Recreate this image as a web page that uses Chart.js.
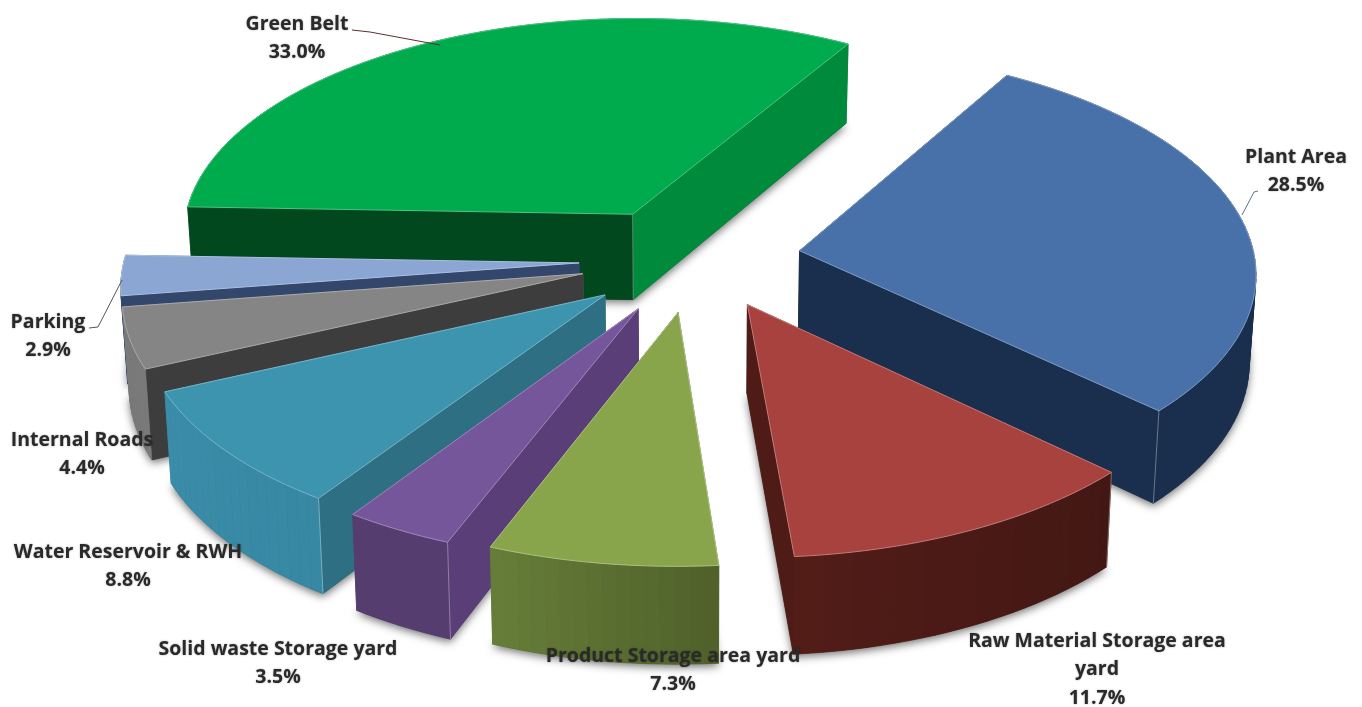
<!DOCTYPE html>
<html><head><meta charset="utf-8">
<style>html,body{margin:0;padding:0;background:#fff}canvas{display:block}</style>
<script src="https://cdn.jsdelivr.net/npm/chart.js@4"></script>
</head><body><canvas id="c" width="1362" height="707"></canvas>
<script>
const categories=["Green Belt","Plant Area","Raw Material Storage area yard","Product Storage area yard","Solid waste Storage yard","Water Reservoir & RWH","Internal Roads","Parking"];
const shares=[33.0,28.5,11.7,7.3,3.5,8.8,4.4,2.9];
const labelLines=[["Green Belt"],["Plant Area"],["Raw Material Storage area","yard"],["Product Storage area yard"],["Solid waste Storage yard"],["Water Reservoir & RWH"],["Internal Roads"],["Parking"]];
const topColors=["#00ab4e","#4771a8","#a8423f","#89a54c","#75569b","#3d94ae","#858585","#8ba6d3"];
const startWall=["#01481f","#1a2f4e","#4f1b16","#566a30","#593e78","#2e6f84","#3d3d3d","#33466c"];
const endWall=["#008a3b","#1a2f4e","#4f1b16","#566a30","#553d70","#35839e","#6f6f6f","#33466c"];
const outerA=["#006b2f","#1a2f4e","#431814","#4f6029","#553d70","#2f7f99","#6f6f6f","#33466c"];
const outerB=["#006b2f","#1a2f4e","#551d18","#677e39","#553d70","#3a8ca8","#7a7a7a","#33466c"];
const explode=[0.235,0.235,0.235,0.235,0.235,0.235,0.235,0.235];
const sliceShift=[[-5,-2],[6,-3],[12,-4],[6,-1],[1,1],[0,0],[-2,-2],[-2,-1]];
const labelCenters=[[297,24],[1296,157],[1097,641],[673,656],[278,649],[128,552],[82,440],[48,322]];
const leaders=[[[352,30],[370,32],[440,45]],[[1258,191],[1254,192],[1242,215]],[[89,328],[98,327],[122,280]]];
const leaderColors=["#5a3030","#5c7390","#555555"];
const cornerEdge=["tip","end","start",null,"start","start",null,null];

const view={cx:688,cy:261,A:455,B:221,H:87,p:0.09,shrink:0.012};
function P(u,v,z,s){const w=1/(1-view.p*v);const d=1-view.shrink*z;return [s[0]+view.cx+view.A*u*w*d,s[1]+view.cy+(view.B*v+view.H*z)*w];}
function hex(c){return [1,3,5].map(i=>parseInt(c.substr(i,2),16));}
function mix(a,b,t){const x=hex(a),y=hex(b);return `rgb(${x.map((q,i)=>Math.round(q+(y[i]-q)*t)).join(',')})`;}
function poly(ctx,pts){ctx.beginPath();pts.forEach((q,i)=>i?ctx.lineTo(q[0],q[1]):ctx.moveTo(q[0],q[1]));ctx.closePath();}

const pie3d={id:'pie3d',
 beforeDatasetDraw(chart,args){
  const ctx=chart.ctx,arcs=args.meta.data;
  const slices=arcs.map((arc,i)=>{
    const a0=arc.startAngle,a1=arc.endAngle,mid=(a0+a1)/2,e=explode[i];
    const ox=Math.cos(mid)*e,oy=Math.sin(mid)*e;
    const n=Math.max(4,Math.ceil((a1-a0)/0.03));
    const rim=[];for(let k=0;k<=n;k++){const a=a0+(a1-a0)*k/n;rim.push([ox+Math.cos(a),oy+Math.sin(a)]);}
    return {i,tip:[ox,oy],rim,depth:Math.sin(mid)};
  }).sort((s,t)=>s.depth-t.depth);
  ctx.save();
  for(const s of slices){
    const i=s.i,rim=s.rim,tip=s.tip,sh=sliceShift[i];
    const top=[P(tip[0],tip[1],0,sh),...rim.map(q=>P(q[0],q[1],0,sh))];
    const bot=[P(tip[0],tip[1],1,sh),...rim.map(q=>P(q[0],q[1],1,sh))];
    ctx.save();ctx.shadowColor='rgba(0,0,0,0.55)';ctx.shadowBlur=9;ctx.shadowOffsetY=3;ctx.fillStyle='#444';poly(ctx,bot);ctx.fill();ctx.restore();
    const faces=[];
    const last=rim.length;
    faces.push({d:(tip[1]+rim[0][1])/2,c:startWall[i],pts:[top[0],top[1],bot[1],bot[0]]});
    faces.push({d:(tip[1]+rim[last-1][1])/2,c:endWall[i],pts:[top[0],top[last],bot[last],bot[0]]});
    for(let k=1;k<last;k++){
      const x0=top[k][0],x1=top[k+1][0],minx=Math.min(...top.map(q=>q[0])),maxx=Math.max(...top.map(q=>q[0]));
      faces.push({d:(rim[k-1][1]+rim[k][1])/2,c:mix(outerA[i],outerB[i],(maxx-(x0+x1)/2)/(maxx-minx||1)),pts:[top[k],top[k+1],bot[k+1],bot[k]]});
    }
    faces.sort((a,b)=>a.d-b.d);
    for(const f of faces){ctx.fillStyle=f.c;ctx.strokeStyle=f.c;ctx.lineWidth=0.7;poly(ctx,f.pts);ctx.fill();ctx.stroke();}
    const ce=cornerEdge[i];
    if(ce){const k=ce==='tip'?0:ce==='start'?1:last;ctx.strokeStyle='rgba(255,255,255,0.35)';ctx.lineWidth=1;ctx.beginPath();ctx.moveTo(top[k][0],top[k][1]);ctx.lineTo(bot[k][0],bot[k][1]);ctx.stroke();}
    ctx.fillStyle=topColors[i];poly(ctx,top);ctx.fill();
    ctx.strokeStyle=mix(topColors[i],'#ffffff',0.3);ctx.lineWidth=1;ctx.stroke();
  }
  ctx.restore();
  return false;
 },
 afterDatasetsDraw(chart){
  const ctx=chart.ctx;ctx.save();
  leaders.forEach((l,i)=>{ctx.strokeStyle=leaderColors[i];ctx.lineWidth=1;ctx.beginPath();l.forEach((q,k)=>k?ctx.lineTo(q[0],q[1]):ctx.moveTo(q[0],q[1]));ctx.stroke();});
  ctx.font='bold 19.5px "Open Sans"';ctx.textAlign='center';ctx.textBaseline='middle';ctx.fillStyle='#2a2a2a';
  ctx.shadowColor='rgba(0,0,0,0.35)';ctx.shadowBlur=2;
  shares.forEach((v,i)=>{
    const [x,y]=labelCenters[i];let yy=y;
    labelLines[i].forEach(t=>{ctx.fillText(t,x,yy);yy+=28.5;});
    ctx.fillText(v.toFixed(1)+'%',x,yy);
  });
  ctx.restore();
 }
};
new Chart(document.getElementById('c'),{type:'pie',
 data:{labels:categories,datasets:[{data:shares,backgroundColor:topColors,borderWidth:0}]},
 options:{responsive:false,animation:false,rotation:-88,layout:{padding:0},plugins:{legend:{display:false},tooltip:{enabled:false}}},
 plugins:[pie3d]});
</script></body></html>
